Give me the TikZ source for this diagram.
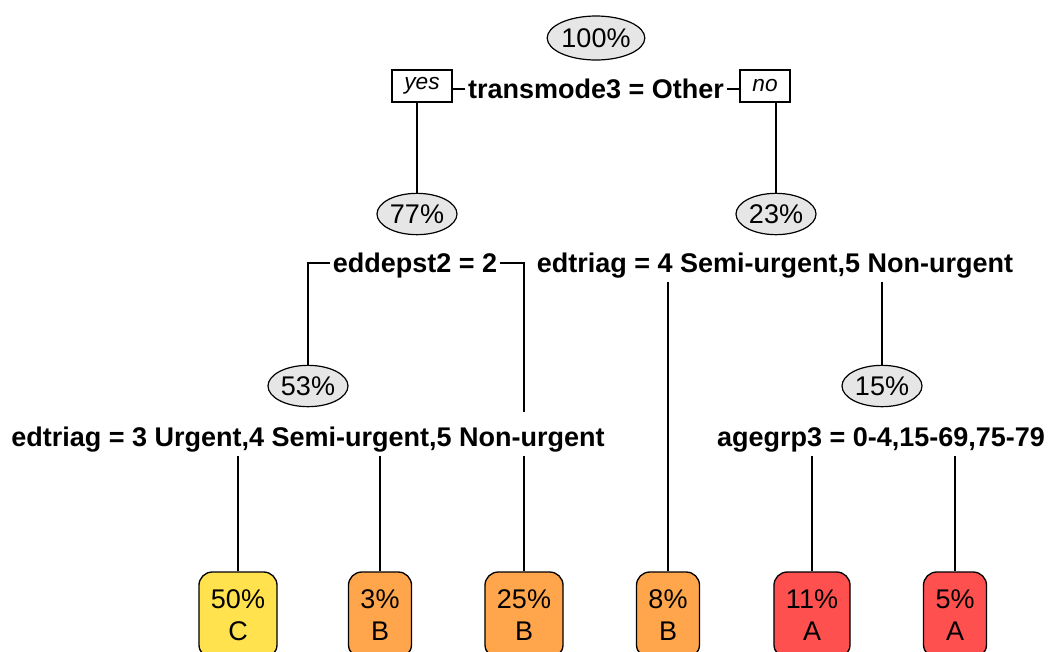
\documentclass[tikz,border=0pt]{standalone}
\usepackage{fontspec}
\setmainfont{Liberation Sans}
\usetikzlibrary{shapes.geometric}
\definecolor{ellgray}{RGB}{230,230,230}
\definecolor{leafC}{RGB}{255,226,77}
\definecolor{leafB}{RGB}{255,166,77}
\definecolor{leafA}{RGB}{255,80,80}
\tikzset{
  conn/.style={line width=1.4pt, black},
  pct/.style={ellipse, draw=black, line width=0.9pt, fill=ellgray, inner sep=0pt,
     minimum width=60pt, minimum height=31pt, font=\fontsize{20.25}{24}\selectfont},
  splitlbl/.style={anchor=base, inner xsep=2pt, inner ysep=0pt, text height=25pt, text depth=7pt,
     font=\bfseries\fontsize{20.25}{24}\selectfont},
  yesno/.style={draw=black, line width=1.2pt, fill=white, inner sep=0pt, minimum height=24pt,
     font=\itshape\fontsize{17}{20}\selectfont},
  leaf/.style={draw=black, line width=1pt, rounded corners=10pt, inner xsep=9pt, inner ysep=0pt,
     minimum height=64.5pt, align=center, font=\fontsize{20.25}{24}\selectfont}
}
\begin{document}
\begin{tikzpicture}[x=0.75pt,y=-0.75pt]
\useasboundingbox (0,0) rectangle (1056,651);
\clip (0,0) rectangle (1056,651);
% level 0
\node[pct, minimum width=70.5pt, minimum height=33pt] (e100) at (596,38) {100\%};
\node[splitlbl] (t1) at (596,98) {transmode3 = Other};
\node[yesno, minimum width=45pt] (yes) at (422,86) {yes};
\node[yesno, minimum width=37.5pt] (no) at (765,86) {no};
% level 1
\node[pct] (e77) at (417,214) {77\%};
\node[pct] (e23) at (776,214) {23\%};
\node[splitlbl] (l2a) at (415,272) {eddepst2 = 2};
\node[splitlbl] (l2b) at (775,272) {edtriag = 4 Semi-urgent,5 Non-urgent};
% level 2
\node[pct] (e53) at (308,386) {53\%};
\node[pct] (e15) at (882,386) {15\%};
\node[splitlbl] (l3a) at (308,446) {edtriag = 3 Urgent,4 Semi-urgent,5 Non-urgent};
\node[splitlbl] (l3b) at (881,446) {agegrp3 = 0-4,15-69,75-79};
% leaves
\node[leaf, fill=leafC] (f50) at (238,615) {50\%\\C};
\node[leaf, fill=leafB] (f3) at (380,615) {3\%\\B};
\node[leaf, fill=leafB] (f25) at (524,615) {25\%\\B};
\node[leaf, fill=leafB] (f8) at (668,615) {8\%\\B};
\node[leaf, fill=leafA] (f11) at (812,615) {11\%\\A};
\node[leaf, fill=leafA] (f5) at (955,615) {5\%\\A};
% connectors level 0
\coordinate (t1w) at ([yshift=7pt]t1.base west);
\coordinate (t1e) at ([yshift=7pt]t1.base east);
\draw[conn] (t1w) -- (yes.east |- t1w);
\draw[conn] (t1e) -- (no.west |- t1e);
\draw[conn] (e77.north |- yes.south) -- (e77.north);
\draw[conn] (e23.north |- no.south) -- (e23.north);
% connectors level 1
\coordinate (l2aw) at ([yshift=7pt]l2a.base west);
\coordinate (l2ae) at ([yshift=7pt]l2a.base east);
\draw[conn] (l2aw) -- (e53.north |- l2aw) -- (e53.north);
\draw[conn] (l2ae) -- (f25.north |- l2ae) -- (f25.north |- l3a.north);
\draw[conn] (f25.north |- l3a.south) -- (f25.north);
\draw[conn] (f8.north |- l2b.south) -- (f8.north);
\draw[conn] (e15.north |- l2b.south) -- (e15.north);
% connectors level 2
\draw[conn] (f50.north |- l3a.south) -- (f50.north);
\draw[conn] (f3.north |- l3a.south) -- (f3.north);
\draw[conn] (f11.north |- l3b.south) -- (f11.north);
\draw[conn] (f5.north |- l3b.south) -- (f5.north);
\end{tikzpicture}
\end{document}
